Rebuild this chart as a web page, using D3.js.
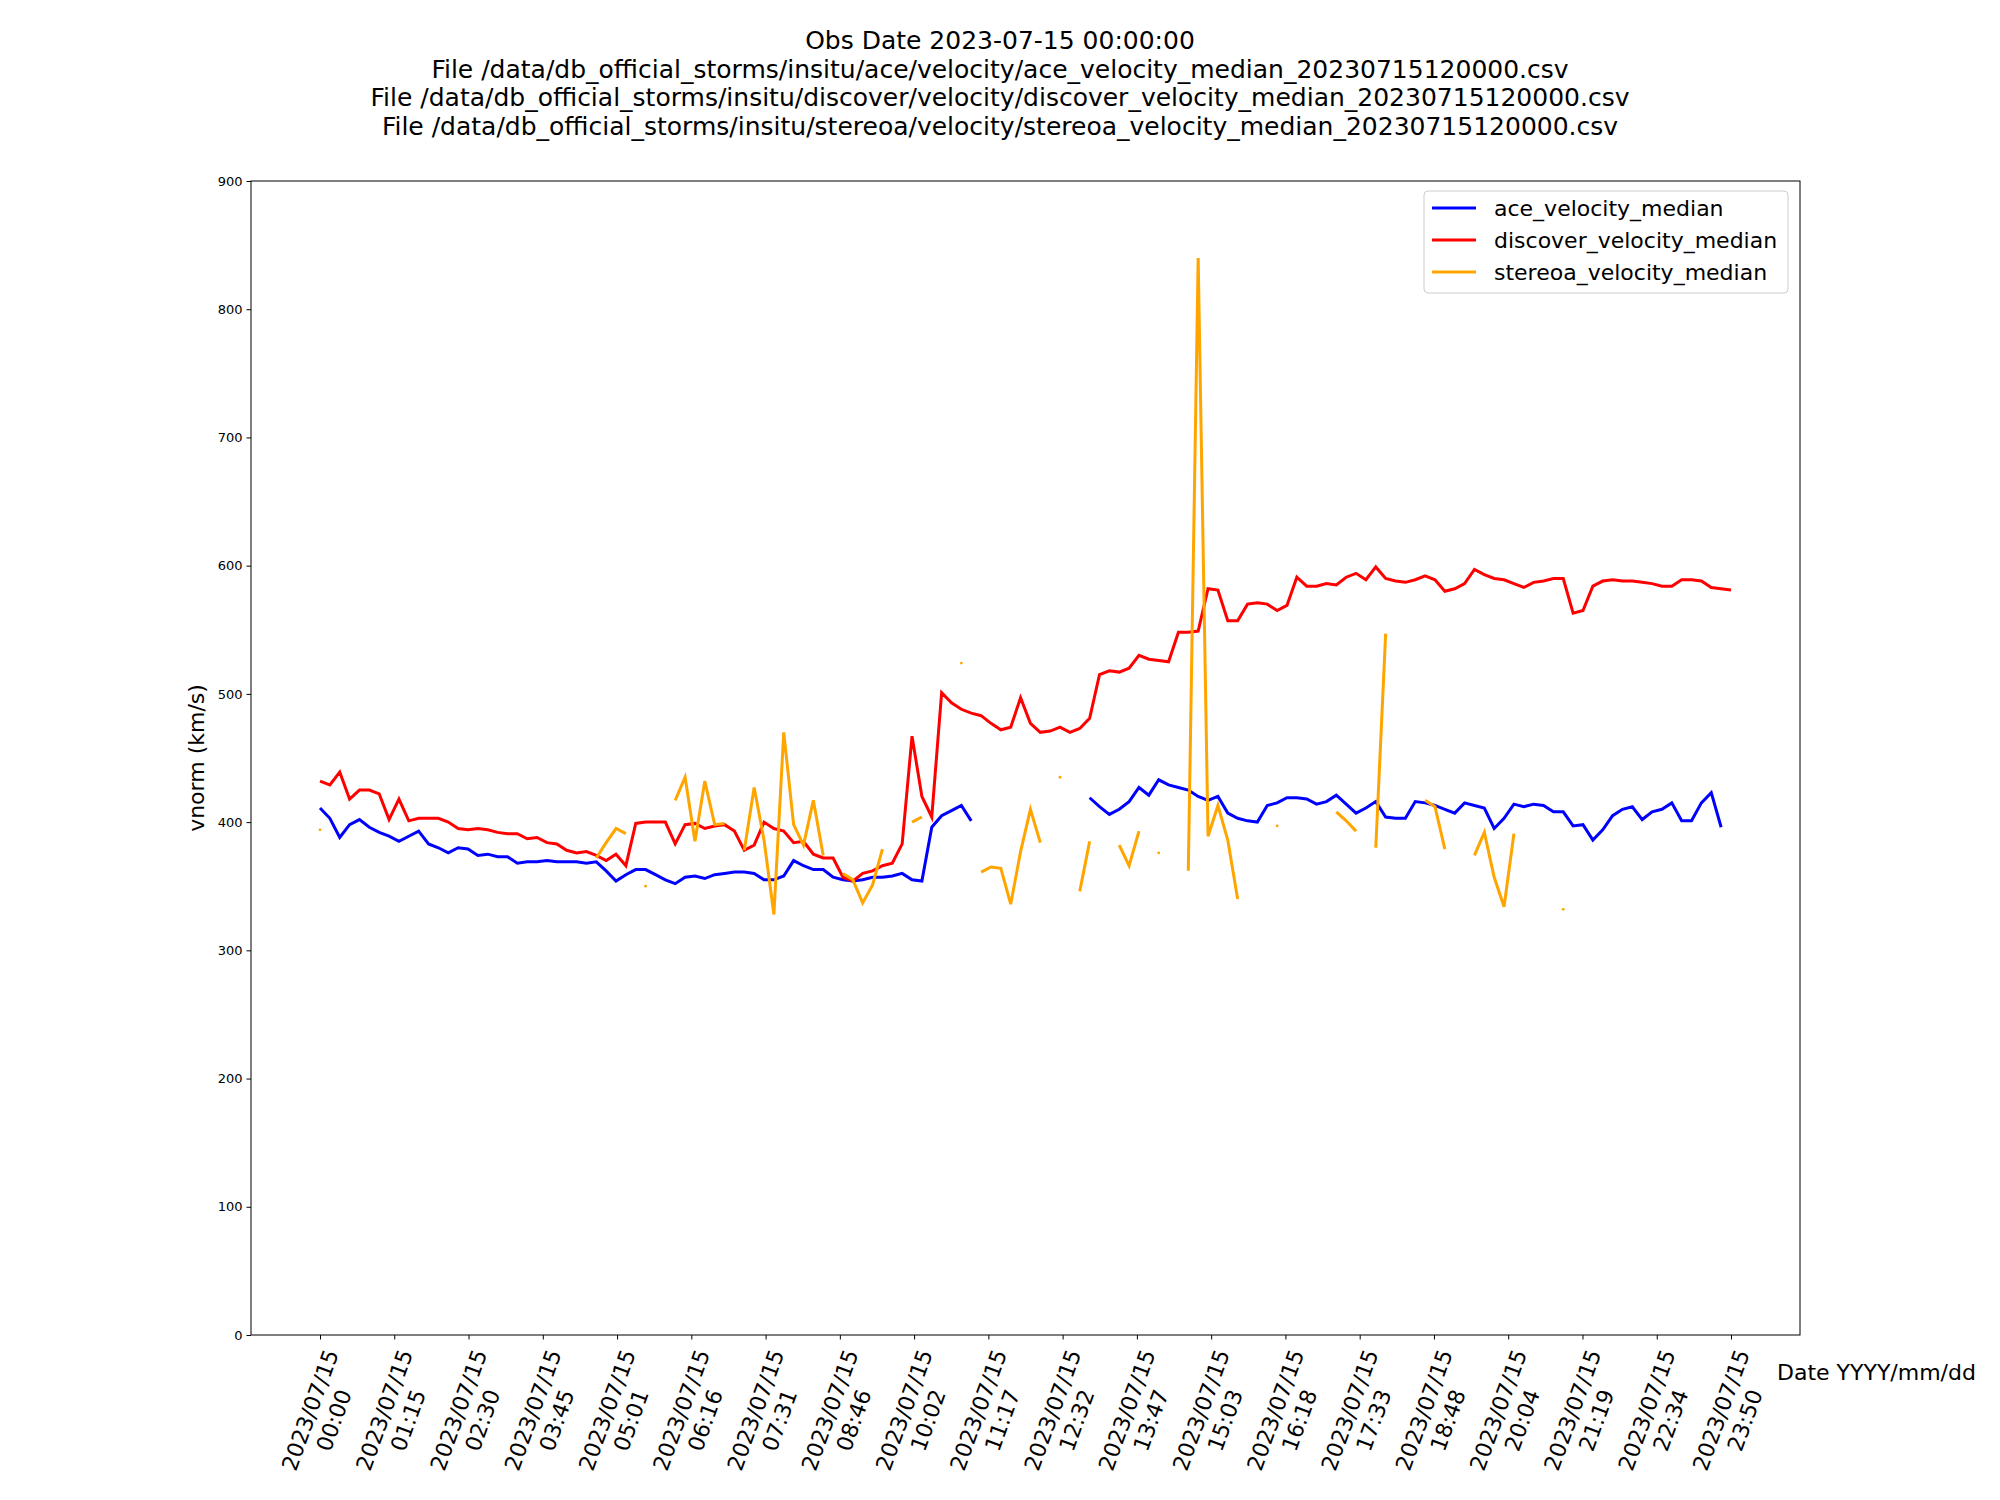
<!DOCTYPE html>
<html>
<head>
<meta charset="utf-8">
<script src="https://cdn.jsdelivr.net/npm/d3@7"></script>
<style>
  body { margin: 0; background: #fff; }
  text { font-family: "DejaVu Sans", sans-serif; }
</style>
</head>
<body>
<div id="chart"></div>
<script>
// values, one point per 10 minutes (144 points)
const aceVelocity = [411,403,388,398,402,396,392,389,385,389,393,383,380,376,380,379,374,375,373,373,
  368,369,369,370,369,369,369,368,369,362,354,359,363,363,359,355,352,357,358,356,
  359,360,361,361,360,355,355,358,370,366,363,363,357,355,354,355,357,357,358,360,
  355,354,396,405,409,413,401,null,null,null,null,null,null,null,null,null,null,null,
  419,412,406,410,416,427,421,433,429,427,425,420,417,420,407,403,401,400,413,415,
  419,419,418,414,416,421,414,407,411,416,404,403,403,416,415,413,410,407,415,413,
  411,395,403,414,412,414,413,408,408,397,398,386,394,405,410,412,402,408,410,415,
  401,401,415,423,396]
const discoverVelocity = [432,429,439,418,425,425,422,402,418,401,403,403,403,400,395,394,395,394,392,391,
  391,387,388,384,383,378,376,377,374,370,375,366,399,400,400,400,383,398,399,395,
  397,398,393,378,382,400,395,393,384,385,375,372,372,357,354,360,362,366,368,383,
  467,420,404,501,493,488,485,483,477,472,474,497,477,470,471,474,470,473,481,515,
  518,517,520,530,527,526,525,548,548,549,582,581,557,557,570,571,570,565,569,591,
  584,584,586,585,591,594,589,599,590,588,587,589,592,589,580,582,586,597,593,590,
  589,586,583,587,588,590,590,563,565,584,588,589,588,588,587,586,584,584,589,589,
  588,583,582,581]
const stereoaVelocity = [394,null,null,null,null,null,null,null,null,null,null,null,null,null,null,null,null,null,null,null,
  null,null,null,null,null,null,null,null,372,384,395,391,null,350,null,null,417,435,385,432,
  398,399,null,378,427,386,328,470,398,382,417,374,null,360,355,337,351,379,null,null,
  400,404,null,null,null,524,null,361,365,364,336,377,410,384,null,435,null,346,385,null,
  null,382,366,393,null,376,null,null,362,840,389,413,386,340,null,null,null,397,null,null,
  null,null,null,408,401,393,null,380,547,null,null,null,417,412,379,null,null,374,392,357,
  334,391,null,null,null,null,332,null,null,null,null,null,null,null,null,null,null,null,null,null,
  null,null,null,null]
const tickLabels = ["00:00","01:15","02:30","03:45","05:01","06:16","07:31","08:46","10:02","11:17",
  "12:32","13:47","15:03","16:18","17:33","18:48","20:04","21:19","22:34","23:50"]
const tickDate = "2023/07/15"
const titleLines = [
  "Obs Date 2023-07-15 00:00:00",
  "File /data/db_official_storms/insitu/ace/velocity/ace_velocity_median_20230715120000.csv",
  "File /data/db_official_storms/insitu/discover/velocity/discover_velocity_median_20230715120000.csv",
  "File /data/db_official_storms/insitu/stereoa/velocity/stereoa_velocity_median_20230715120000.csv"
]
const seriesNames = ["ace_velocity_median","discover_velocity_median","stereoa_velocity_median"]
const seriesColors = ["blue","red","orange"]

const margin = {top: 181, right: 200, bottom: 165, left: 251},
  width = 2000 - margin.left - margin.right,
  height = 1500 - margin.top - margin.bottom;

const svg = d3.select("#chart").append("svg")
  .attr("width", 2000).attr("height", 1500)

// title
svg.append("g").selectAll("text")
  .data(titleLines)
  .join("text")
  .attr("x", 1000)
  .attr("y", (d, i) => 49 + i * 28.5)
  .attr("text-anchor", "middle")
  .style("font-size", "25px")
  .text(d => d)

const g = svg.append("g").attr("transform", `translate(${margin.left},${margin.top})`)

// x = minutes since 00:00
const xScale = d3.scaleLinear().domain([0, 1430]).range([69, 1480])
const yScale = d3.scaleLinear().domain([0, 900]).range([height, 0])

// y axis
const yAxis = g.append("g")
  .call(d3.axisLeft(yScale).tickValues(d3.range(0, 901, 100)).tickSize(4.5).tickPadding(4))
yAxis.selectAll("text").style("font-size", "13px").style("font-family", "DejaVu Sans")
yAxis.select(".domain").remove()

// x ticks (20 evenly spaced over the 144 samples)
const tickPos = tickLabels.map((t, i) => i * 1430 / 19)
const xAxis = g.append("g").attr("transform", `translate(0,${height})`)
  .call(d3.axisBottom(xScale).tickValues(tickPos).tickSize(4.5).tickFormat(""))
xAxis.select(".domain").remove()

tickPos.forEach((p, i) => {
  const lab = g.append("g")
    .attr("transform", `translate(${xScale(p) + 19},${height + 18}) rotate(-70)`)
  lab.append("text")
    .attr("text-anchor", "end")
    .attr("y", 0)
    .style("font-size", "22px")
    .text(tickDate)
  lab.append("text")
    .attr("text-anchor", "middle")
    .attr("x", -65)
    .attr("y", 26)
    .style("font-size", "22px")
    .text(tickLabels[i])
})

// frame
g.append("rect")
  .attr("width", width).attr("height", height)
  .attr("fill", "none").attr("stroke", "black").attr("stroke-width", 1)

// axis labels
svg.append("text")
  .attr("transform", `translate(204,${margin.top + yScale(450)}) rotate(-90)`)
  .attr("text-anchor", "middle")
  .style("font-size", "22px")
  .text("vnorm (km/s)")
svg.append("text")
  .attr("x", 1777).attr("y", 1380)
  .style("font-size", "22px")
  .text("Date YYYY/mm/dd")

// lines
const allSeries = [aceVelocity, discoverVelocity, stereoaVelocity]
const line = d3.line()
  .defined(d => d != null)
  .x((d, i) => xScale(i * 10))
  .y(d => yScale(d))

allSeries.forEach((s, k) => {
  g.append("path")
    .datum(s)
    .attr("fill", "none")
    .attr("stroke", seriesColors[k])
    .attr("stroke-width", 3)
    .attr("d", line)
  // lone points (no neighbours) show as tiny dots
  g.selectAll(".dot" + k)
    .data(s.map((v, i) => ({v, i})).filter(d => d.v != null && s[d.i - 1] == null && s[d.i + 1] == null))
    .join("circle")
    .attr("cx", d => xScale(d.i * 10))
    .attr("cy", d => yScale(d.v))
    .attr("r", 1.4)
    .attr("fill", seriesColors[k])
})

// legend
const legend = svg.append("g").attr("transform", "translate(1424,191)")
legend.append("rect")
  .attr("width", 364).attr("height", 102).attr("rx", 4)
  .attr("fill", "white").attr("stroke", "#ccc")
seriesNames.forEach((n, i) => {
  legend.append("line")
    .attr("x1", 8).attr("x2", 52)
    .attr("y1", 17 + i * 32).attr("y2", 17 + i * 32)
    .attr("stroke", seriesColors[i]).attr("stroke-width", 3)
  legend.append("text")
    .attr("x", 70).attr("y", 17 + i * 32)
    .attr("dy", "0.35em")
    .style("font-size", "22px")
    .text(n)
})
</script>
</body>
</html>
